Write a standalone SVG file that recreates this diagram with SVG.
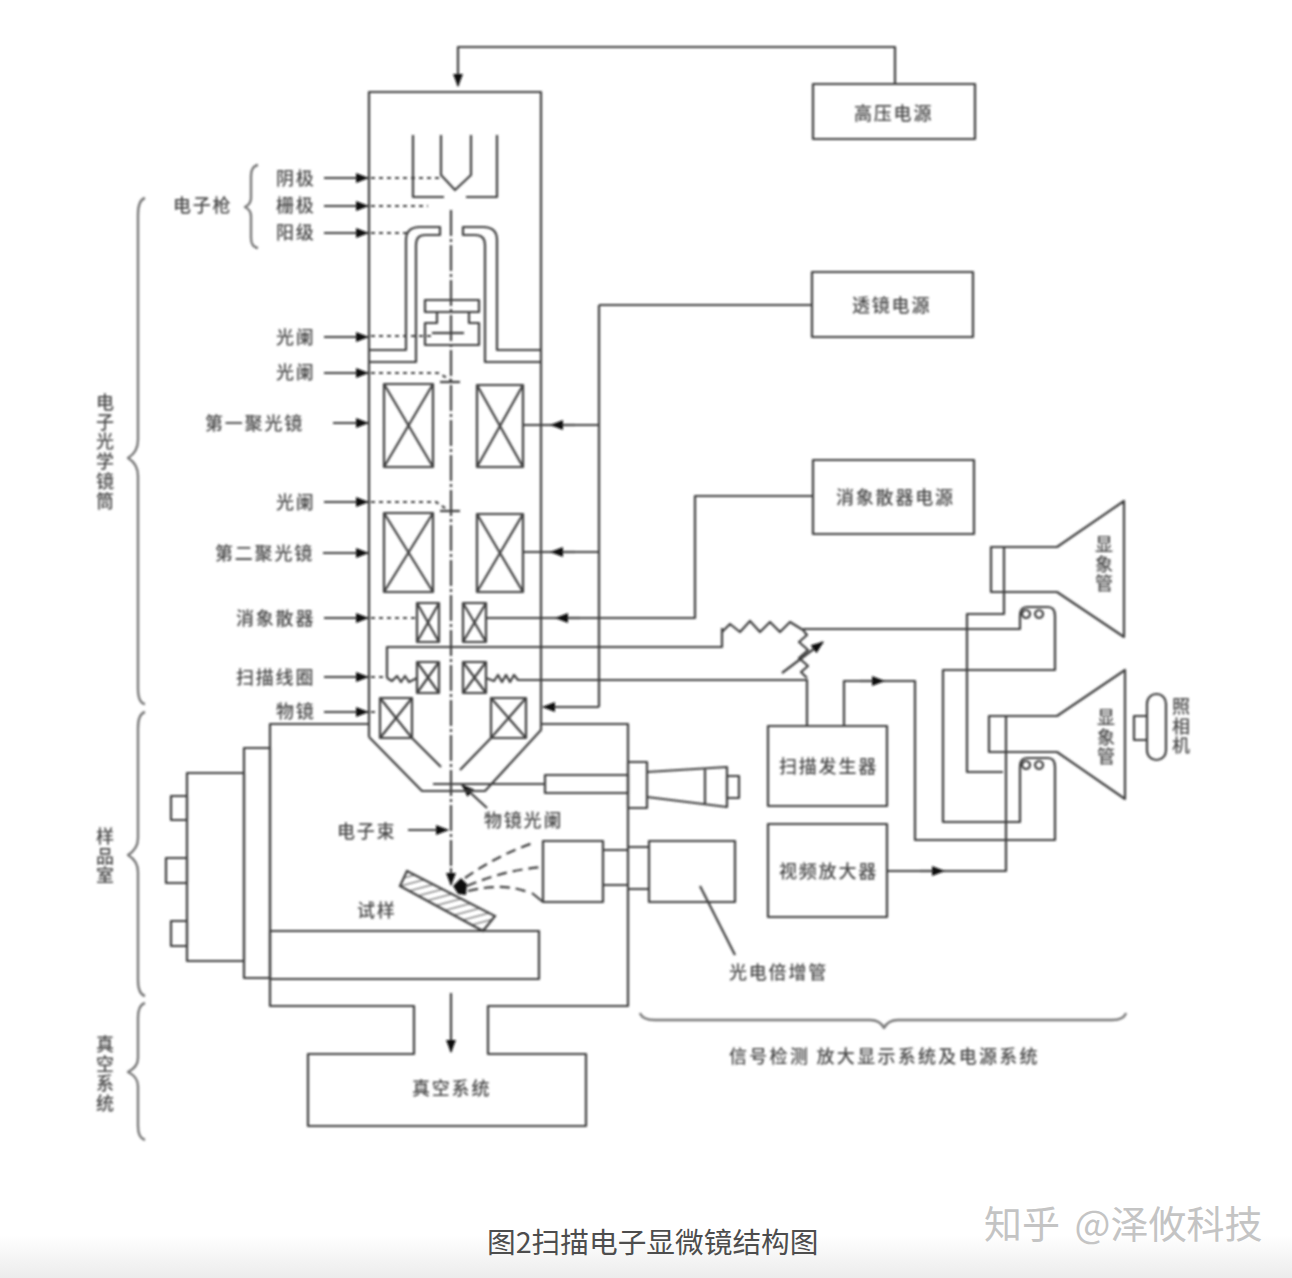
<svg xmlns="http://www.w3.org/2000/svg" width="1292" height="1278" viewBox="0 0 1292 1278">
<style>
.l{fill:none;stroke:#3c3c3c;stroke-width:2.200;stroke-linejoin:round}
.a{marker-end:url(#ah)}
.d{stroke-dasharray:4 4}
.b{stroke-dasharray:26 3 3 3}
.e{stroke-dasharray:10 6}
.br{stroke:#777;stroke-width:2.400}
.t{font-family:"Noto Sans CJK SC","Noto Sans",sans-serif;font-size:18px;font-weight:500;fill:#4a4a4a;letter-spacing:1.800px}
.v{writing-mode:vertical-rl}
</style>
<defs>
<linearGradient id="bg" x1="0" y1="0" x2="0" y2="1"><stop offset="0" stop-color="#fff"/><stop offset="1" stop-color="#ececec"/></linearGradient>
<marker id="ah" markerUnits="userSpaceOnUse" markerWidth="14" markerHeight="12" refX="12" refY="6" orient="auto"><path d="M0 1L13 6L0 11Z" fill="#111"/></marker>
<pattern id="hat" width="7" height="7" patternUnits="userSpaceOnUse" patternTransform="rotate(-15)"><path d="M0 0H7" stroke="#3c3c3c" stroke-width="1.800"/></pattern>
<filter id="s" x="0" y="0" width="1292" height="1278" filterUnits="userSpaceOnUse"><feGaussianBlur stdDeviation="0.8"/></filter>
</defs>
<rect width="1292" height="1278" fill="#fff"/>
<rect y="1235" width="1292" height="43" fill="url(#bg)"/>
<g filter="url(#s)">
<g id="connectors" class="l">
<path class="a" d="M895 84V47H458V86"/>
<path d="M599 305H812M599 305V707"/>
<path d="M599 425H523"/><path class="a" d="M575 425H551"/>
<path d="M599 552H523"/><path class="a" d="M575 552H551"/>
<path class="a" d="M599 707H543"/>
<path d="M812 496H695V618H486"/><path class="a" d="M580 618H556"/>
<path d="M387 678V647H722V628"/>
<path d="M722 632L730 624L740 632L750 621L760 632L770 622L780 632L790 622L803 630"/>
<path d="M803 630L807 635L799 642L808 650L799 658L808 666L801 672L807 678"/>
<path d="M387 678L392 681L397 676L401 682L405 676L409 682L417 678"/>
<path d="M486 678L494 681L498 675L502 682L506 675L510 682L514 675L518 680H523H807V726"/>
<path class="a" d="M782 673L823 642"/>
<path d="M803 629H1020V616Q1020 607 1027 607H1048Q1055 607 1055 616V670H943V822H1020V767Q1020 758 1027 758H1048Q1055 758 1055 767V840H915V681H844V726"/>
<path class="a" d="M860 681H884"/>
<path d="M1004 547V614H967V772H1003"/>
<path d="M1006 716V871H887"/><path class="a" d="M920 871H944"/>
<path class="a" d="M487 808L462 785"/>
<path d="M433 784H545"/>
<path class="a" d="M408 830H448"/>
<path class="a" d="M451 993V1052"/>
<path class="a" d="M324 178H368"/><path class="d" d="M371 178H441"/>
<path class="a" d="M324 206H368"/><path class="d" d="M371 206H428"/>
<path class="a" d="M324 233H368"/><path class="d" d="M371 233H407"/>
<path class="a" d="M324 337H368"/><path class="d" d="M371 336H432"/>
<path class="a" d="M324 373H368"/><path class="d" d="M371 373H438L451 380"/>
<path class="a" d="M333 423H368"/>
<path class="a" d="M324 502H368"/><path class="d" d="M371 502H436L448 510"/>
<path class="a" d="M323 553H368"/>
<path class="a" d="M324 618H368"/><path class="d" d="M371 618H417"/>
<path class="a" d="M324 677H368"/><path class="d" d="M371 677H387"/>
<path class="a" d="M324 712H368"/><path class="d" d="M371 712H380"/>
<path class="b" d="M451 210V868"/>
<path class="a" d="M451 868V885"/>
<path class="e" d="M465 878Q498 855 533 843"/>
<path class="e" d="M467 886Q504 870 543 867"/>
<path class="e" d="M468 891Q505 882 530 893"/>
<path d="M532 893L543 902"/>
<path d="M700 886L735 955"/>
</g>
<g id="column" class="l">
<path d="M369 737V92H541V730L485 791H422L369 737"/>
<path d="M369 350H406V240Q406 227 420 227H440V235H425Q416 235 416 245V362H369"/>
<path d="M541 350H497V240Q497 227 483 227H463V235H475Q485 235 485 245V362H541"/>
<path d="M440 382H460"/>
<path d="M440 511H460"/>
</g>
<g id="gun" class="l">
<path d="M413 135V197H444M466 197H497V135"/>
<path d="M441 135V175L455 190L471 175V135"/>
</g>
<g id="aperture" class="l">
<rect x="425" y="300" width="54" height="12"/>
<path d="M437 312V323H425V345H479V323H469V312"/>
<path d="M432 333H464"/>
</g>
<g id="lens1" class="l"><path d="M384 384H433V467H384ZM384 384L433 467M433 384L384 467"/><path d="M477 385H523V467H477ZM477 385L523 467M523 385L477 467"/></g>
<g id="lens2" class="l"><path d="M384 513H433V592H384ZM384 513L433 592M433 513L384 592"/><path d="M477 514H523V592H477ZM477 514L523 592M523 514L477 592"/></g>
<g id="stigmator" class="l"><path d="M417 603H439V642H417ZM417 603L439 642M439 603L417 642"/><path d="M463 603H486V642H463ZM463 603L486 642M486 603L463 642"/></g>
<g id="scan-coil" class="l"><path d="M417 662H439V693H417ZM417 662L439 693M439 662L417 693"/><path d="M463 662H486V693H463ZM463 662L486 693M486 662L463 693"/></g>
<g id="objective" class="l"><path d="M380 698H412V738H380ZM380 698L412 738M412 698L380 738M412 738L441 767"/><path d="M491 698H526V738H491ZM491 698L526 738M526 698L491 738M491 738L460 770"/></g>
<g id="chamber" class="l">
<path d="M369 724H270V1006H414V1054H308V1126H586V1054H488V1006H628V724H541"/>
<rect x="244" y="748" width="26" height="230"/>
<rect x="187" y="773" width="57" height="188"/>
<rect x="171" y="796" width="16" height="24"/>
<rect x="166" y="858" width="21" height="25"/>
<rect x="171" y="921" width="16" height="25"/>
<rect x="270" y="931" width="269" height="48"/>
</g>
<g id="sample"><path d="M407 871L400 886L483 931L495 916Z" fill="url(#hat)" stroke="#3c3c3c" stroke-width="2.200"/>
<path d="M453 886L461 878L467 884L466 895L458 894Z" fill="#111"/></g>
<g id="micrometer" class="l">
<rect x="545" y="775" width="83" height="18"/>
<rect x="628" y="762" width="19" height="46"/>
<path d="M647 772L727 767V807L647 797M705 769V805"/>
<rect x="727" y="776" width="12" height="22"/>
</g>
<g id="detector" class="l">
<rect x="543" y="841" width="60" height="61"/>
<rect x="649" y="841" width="86" height="61"/>
<path d="M603 850H628M628 847H649M603 885H628M628 889H649"/>
</g>
<g id="hv" class="l"><rect x="813" y="84" width="162" height="55"/></g>
<g id="lens-power" class="l"><rect x="812" y="272" width="161" height="65"/></g>
<g id="stig-power" class="l"><rect x="813" y="460" width="161" height="74"/></g>
<g id="scan-gen" class="l"><rect x="768" y="726" width="119" height="80"/></g>
<g id="video-amp" class="l"><rect x="768" y="824" width="119" height="93"/></g>
<g id="crt1" class="l"><path d="M991 547H1057L1124 501V637L1057 592H991Z"/><path d="M1026 610a4 4 0 1 0 .1 0M1039 610a4 4 0 1 0 .1 0"/></g>
<g id="crt2" class="l"><path d="M989 716H1057L1125 670V799L1057 752H989Z"/><path d="M1026 761a4 4 0 1 0 .1 0M1039 761a4 4 0 1 0 .1 0"/></g>
<g id="camera" class="l"><rect x="1147" y="694" width="19" height="66" rx="9.500"/><path d="M1147 716H1134V740H1147"/></g>
<g id="braces" class="l br">
<path d="M145 198Q138 200 138 215V440Q138 452 128 458Q138 464 138 476V688Q138 703 145 704"/>
<path d="M145 712Q138 714 138 728V838Q138 849 128 855Q138 861 138 872V980Q138 994 145 996"/>
<path d="M145 1003Q138 1005 138 1018V1058Q138 1067 128 1072Q138 1077 138 1086V1126Q138 1138 145 1140"/>
<path d="M258 165Q251 166 251 176V198Q251 204 245 207Q251 210 251 216V238Q251 247 258 248"/>
<path d="M640 1013Q642 1020 655 1020H870Q880 1020 884 1028Q888 1020 898 1020H1112Q1124 1020 1126 1013"/>
</g>
<g id="labels">
<text class="t" x="276" y="185">阴极</text>
<text class="t" x="276" y="212">栅极</text>
<text class="t" x="276" y="239">阳级</text>
<text class="t" x="173" y="212">电子枪</text>
<text class="t" x="276" y="344">光阑</text>
<text class="t" x="276" y="379">光阑</text>
<text class="t" x="205" y="430">第一聚光镜</text>
<text class="t" x="276" y="509">光阑</text>
<text class="t" x="215" y="560">第二聚光镜</text>
<text class="t" x="236" y="625">消象散器</text>
<text class="t" x="236" y="684">扫描线圈</text>
<text class="t" x="276" y="718">物镜</text>
<text class="t v" x="105" y="393">电子光学镜筒</text>
<text class="t v" x="105" y="827">样品室</text>
<text class="t v" x="105" y="1035">真空系统</text>
<text class="t" x="854" y="120">高压电源</text>
<text class="t" x="852" y="312">透镜电源</text>
<text class="t" x="836" y="504">消象散器电源</text>
<text class="t" x="779" y="773">扫描发生器</text>
<text class="t" x="779" y="878">视频放大器</text>
<text class="t" x="729" y="979">光电倍增管</text>
<text class="t" x="729" y="1063" style="letter-spacing:2.300px">信号检测 放大显示系统及电源系统</text>
<text class="t" x="412" y="1095">真空系统</text>
<text class="t" x="337" y="838">电子束</text>
<text class="t" x="484" y="827">物镜光阑</text>
<text class="t" x="357" y="917">试样</text>
<text class="t v" x="1104" y="535">显象管</text>
<text class="t v" x="1106" y="708">显象管</text>
<text class="t v" x="1181" y="697">照相机</text>
</g>
</g>
<text x="487" y="1253" style="font-family:'Noto Sans CJK SC',sans-serif;font-size:28.700px;fill:#4d4d4d">图2扫描电子显微镜结构图</text>
<text x="984" y="1238" style="font-family:'Noto Sans CJK SC',sans-serif;font-size:38px;word-spacing:6px;fill:#c4c4c4">知乎 @泽攸科技</text>
</svg>
